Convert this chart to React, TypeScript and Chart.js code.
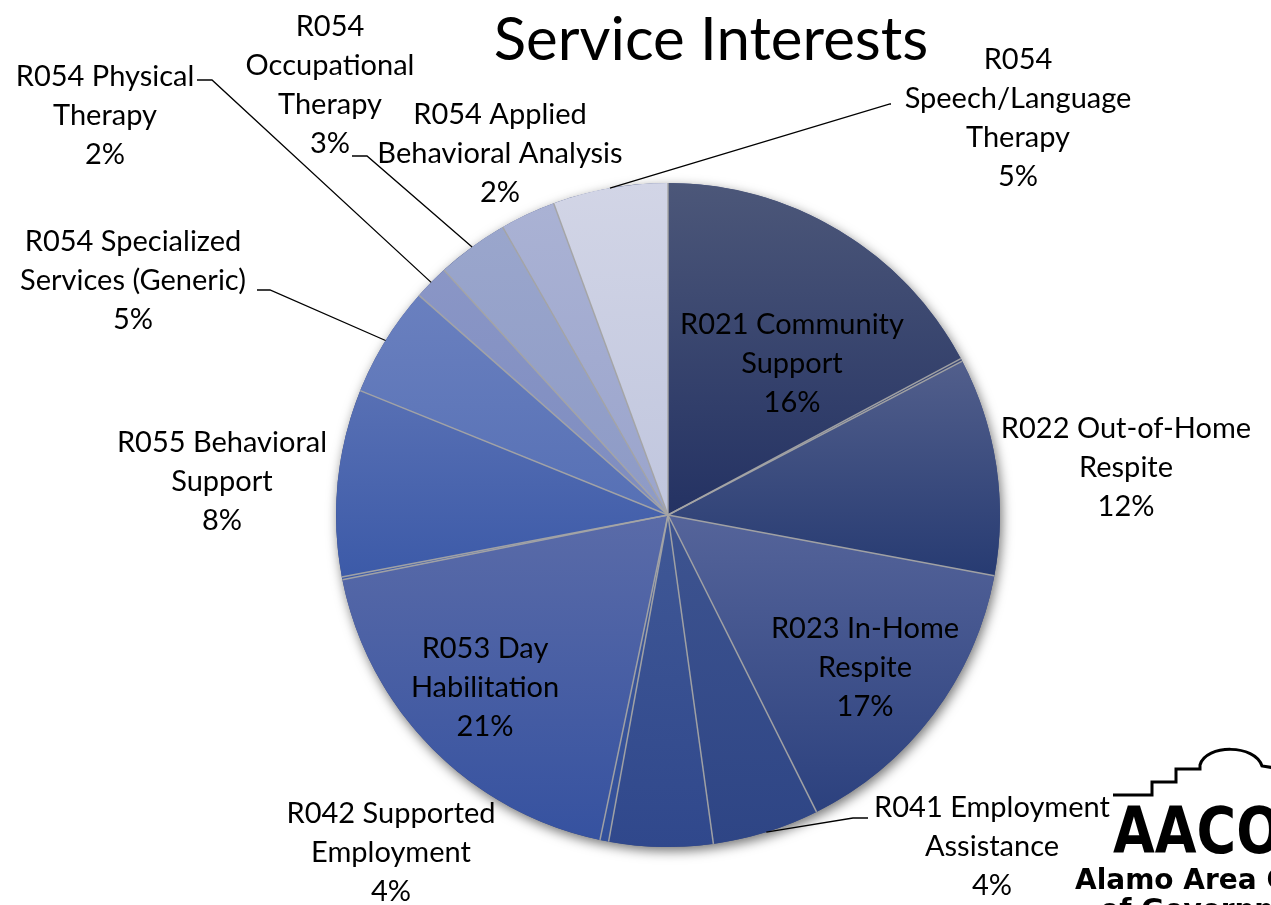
import React, { useEffect, useRef } from "react";
import { Chart, registerables } from "chart.js";

Chart.register(...registerables);

// ---------------- data ----------------
const categories = [
  "R021 Community Support",
  "Unlabeled 1",
  "R022 Out-of-Home Respite",
  "R023 In-Home Respite",
  "R041 Employment Assistance",
  "R042 Supported Employment",
  "Unlabeled 2",
  "R053 Day Habilitation",
  "Unlabeled 3",
  "R055 Behavioral Support",
  "R054 Specialized Services (Generic)",
  "R054 Physical Therapy",
  "R054 Occupational Therapy",
  "R054 Applied Behavioral Analysis",
  "R054 Speech/Language Therapy",
];

// slice sizes as drawn (share of the full circle, %)
const sliceShares = [17.2, 0.14, 10.6, 14.7, 5.2, 5.05, 0.42, 18.6, 0.14, 9.1, 5.4, 1.7, 3.5, 2.7, 5.6];

// percentages printed in the data labels
const percentLabels = ["16%", "", "12%", "17%", "4%", "4%", "", "21%", "", "8%", "5%", "2%", "3%", "2%", "5%"];

// wrapped label text
const labelLines: string[][] = [
  ["R021 Community", "Support"],
  [],
  ["R022 Out-of-Home", "Respite"],
  ["R023 In-Home", "Respite"],
  ["R041 Employment", "Assistance"],
  ["R042 Supported", "Employment"],
  [],
  ["R053 Day", "Habilitation"],
  [],
  ["R055 Behavioral", "Support"],
  ["R054 Specialized", "Services (Generic)"],
  ["R054 Physical", "Therapy"],
  ["R054", "Occupational", "Therapy"],
  ["R054 Applied", "Behavioral Analysis"],
  ["R054", "Speech/Language", "Therapy"],
];

const chartTitle = "Service Interests";

// ---------------- styles / layout ----------------
const sliceTop = [
  "#4c5779", "#3a4775", "#525f8c", "#55649a", "#3e5490", "#405896", "#3e5799", "#5a6ba8",
  "#5066ae", "#5870b4", "#6a80bf", "#8a96c6", "#9aa6cc", "#aab2d4", "#d2d5e6",
];
const sliceBottom = [
  "#243263", "#273a70", "#273b72", "#2c417e", "#2e4585", "#30488c", "#33509a", "#3652a0",
  "#3a58a8", "#3c5aa8", "#5670b5", "#7d8cc0", "#8d9ac6", "#9aa4cc", "#c0c6de",
];

const FONT = "Lato, 'Open Sans', sans-serif";
const LABEL_SIZE = 29;
const LINE_H = 39;

type LabelLayout = { x: number; y: number; leader?: [number, number, number, number] };
const LABEL_LAYOUT: Record<number, LabelLayout> = {
  0: { x: 792, y: 334 },
  2: { x: 1126, y: 438 },
  3: { x: 865, y: 638 },
  4: { x: 992, y: 817, leader: [868, 818, 853, 818] },
  5: { x: 391, y: 823 },
  7: { x: 485, y: 658 },
  9: { x: 222, y: 452 },
  10: { x: 133, y: 251, leader: [257, 290, 270, 290] },
  11: { x: 105, y: 86, leader: [197, 80, 212, 80] },
  12: { x: 330, y: 36, leader: [352, 156, 367, 156] },
  13: { x: 500, y: 124 },
  14: { x: 1018, y: 69, leader: [891, 104, 890, 104] },
};

function sliceAngles(i: number) {
  const total = sliceShares.reduce((a, b) => a + b, 0);
  let before = 0;
  for (let k = 0; k < i; k++) before += sliceShares[k];
  const a0 = -Math.PI / 2 + (2 * Math.PI * before) / total;
  const a1 = a0 + (2 * Math.PI * sliceShares[i]) / total;
  return [a0, a1];
}

function sliceFill(c: any) {
  const i = c.dataIndex ?? 0;
  const chart = c.chart;
  const area = chart.chartArea;
  if (!area || c.type !== "data") return sliceBottom[i];
  const cx = (area.left + area.right) / 2;
  const cy = (area.top + area.bottom) / 2;
  const r = Math.min(area.width, area.height) / 2;
  const [a0, a1] = sliceAngles(i);
  const ys = [cy, cy + r * Math.sin(a0), cy + r * Math.sin(a1)];
  for (const t of [-Math.PI / 2, Math.PI / 2, (3 * Math.PI) / 2]) {
    if (t >= a0 && t <= a1) ys.push(cy + r * Math.sin(t));
  }
  const minY = Math.min(...ys);
  const maxY = Math.max(...ys);
  const g = chart.ctx.createLinearGradient(0, minY, 0, Math.max(maxY, minY + 1));
  g.addColorStop(0, sliceTop[i]);
  g.addColorStop(1, sliceBottom[i]);
  return g;
}

const piePlugin = {
  id: "pieDecor",
  beforeDatasetsDraw(chart: any) {
    const meta = chart.getDatasetMeta(0);
    const arc = meta.data[0];
    if (!arc) return;
    const ctx = chart.ctx;
    ctx.save();
    ctx.shadowColor = "rgba(0,0,0,0.55)";
    ctx.shadowBlur = 12;
    ctx.shadowOffsetX = 2;
    ctx.shadowOffsetY = 4;
    ctx.fillStyle = "#3a4a80";
    ctx.beginPath();
    ctx.arc(arc.x, arc.y, arc.outerRadius, 0, Math.PI * 2);
    ctx.fill();
    ctx.restore();
  },
  afterDatasetsDraw(chart: any) {
    const meta = chart.getDatasetMeta(0);
    const ctx = chart.ctx;
    ctx.save();
    ctx.strokeStyle = "rgba(165,165,165,0.95)";
    ctx.lineWidth = 1.5;
    meta.data.forEach((arc: any) => {
      ctx.beginPath();
      ctx.moveTo(arc.x, arc.y);
      ctx.lineTo(arc.x + arc.outerRadius * Math.cos(arc.startAngle), arc.y + arc.outerRadius * Math.sin(arc.startAngle));
      ctx.stroke();
    });
    ctx.restore();
  },
  afterDraw(chart: any) {
    const ctx = chart.ctx;
    const meta = chart.getDatasetMeta(0);
    ctx.save();
    // title
    ctx.fillStyle = "#000";
    ctx.textAlign = "center";
    ctx.textBaseline = "alphabetic";
    ctx.font = `60px ${FONT}`;
    ctx.fillText(chartTitle, 711, 60);

    // leaders
    ctx.strokeStyle = "#000";
    ctx.lineWidth = 1.3;
    Object.keys(LABEL_LAYOUT).forEach((k) => {
      const i = Number(k);
      const lay = LABEL_LAYOUT[i];
      if (!lay.leader) return;
      const arc = meta.data[i];
      const mid = (arc.startAngle + arc.endAngle) / 2;
      const ex = arc.x + arc.outerRadius * Math.cos(mid);
      const ey = arc.y + arc.outerRadius * Math.sin(mid);
      const [x0, y0, x1, y1] = lay.leader;
      ctx.beginPath();
      ctx.moveTo(x0, y0);
      ctx.lineTo(x1, y1);
      ctx.lineTo(ex, ey);
      ctx.stroke();
    });

    // labels
    ctx.font = `${LABEL_SIZE}px ${FONT}`;
    Object.keys(LABEL_LAYOUT).forEach((k) => {
      const i = Number(k);
      const lay = LABEL_LAYOUT[i];
      const lines = [...labelLines[i], percentLabels[i]];
      lines.forEach((t, j) => ctx.fillText(t, lay.x, lay.y + j * LINE_H));
    });

    // logo (partially off-page)
    ctx.textAlign = "left";
    ctx.lineWidth = 3;
    ctx.beginPath();
    ctx.moveTo(1113, 795);
    ctx.lineTo(1152, 795);
    ctx.lineTo(1152, 782);
    ctx.lineTo(1176, 782);
    ctx.lineTo(1176, 769);
    ctx.lineTo(1200, 769);
    ctx.lineTo(1200, 765);
    ctx.bezierCurveTo(1206, 744, 1255, 744, 1262, 766);
    ctx.lineTo(1275, 768);
    ctx.stroke();
    ctx.save();
    ctx.translate(1113, 853);
    ctx.scale(1.0, 1.2);
    ctx.font = `bold 54px 'DejaVu Sans'`;
    ctx.fillText("AACOG", 0, 0);
    ctx.restore();
    ctx.font = `bold 28px 'DejaVu Sans'`;
    ctx.fillText("Alamo Area Council", 1075, 889);
    ctx.fillText("of Governments", 1100, 919);
    ctx.restore();
  },
};

export default function App() {
  const ref = useRef<HTMLCanvasElement | null>(null);
  useEffect(() => {
    if (!ref.current) return;
    const chart = new Chart(ref.current, {
      type: "pie",
      data: {
        labels: categories,
        datasets: [
          {
            data: sliceShares,
            backgroundColor: sliceFill as any,
            borderWidth: 0,
            hoverOffset: 0,
            offset: 0,
          },
        ],
      },
      options: {
        responsive: false,
        animation: false,
        devicePixelRatio: 1,
        events: [],
        layout: { padding: { left: 336, top: 183, right: 271, bottom: 58 } },
        plugins: {
          legend: { display: false },
          tooltip: { enabled: false },
          title: { display: false },
        },
      },
      plugins: [piePlugin],
    });
    return () => chart.destroy();
  }, []);
  return (
    <div style={{ position: "absolute", left: 0, top: 0, width: 1271, height: 905, background: "#fff", overflow: "hidden" }}>
      <canvas ref={ref} width={1271} height={905} style={{ display: "block" }} />
    </div>
  );
}
